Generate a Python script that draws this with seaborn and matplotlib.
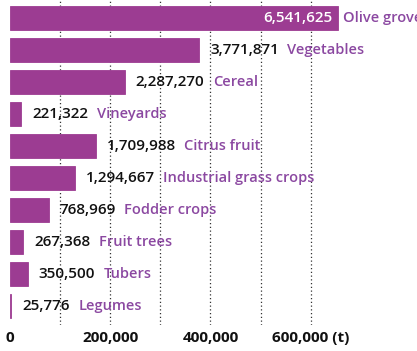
import matplotlib
matplotlib.use("Agg")
import matplotlib.pyplot as plt
import seaborn as sns
import pandas as pd

crops = ["Olive grove", "Vegetables", "Cereal", "Vineyards", "Citrus fruit",
         "Industrial grass crops", "Fodder crops", "Fruit trees", "Tubers", "Legumes"]
tonnes = [6541625, 3771871, 2287270, 221322, 1709988,
          1294667, 768969, 267368, 350500, 25776]
tick_values = [0, 2000000, 4000000, 6000000]
tick_labels = ["0", "200,000", "400,000", "600,000 (t)"]
grid_values = [1000000, 2000000, 3000000, 4000000, 5000000, 6000000]

bar_color = "#9c3c92"
label_color = "#8b48a1"

df = pd.DataFrame({"crop": crops, "tonnes": tonnes})

sns.set_style("white")
plt.rcParams["font.family"] = ["Open Sans", "DejaVu Sans"]

fig = plt.figure(figsize=(4.17, 3.51), dpi=100)
ax = fig.add_axes([10 / 417, 26 / 351, 407 / 417, 325 / 351])

sns.barplot(data=df, x="tonnes", y="crop", orient="h", color=bar_color,
            saturation=1, width=0.75, ax=ax, zorder=3,
            edgecolor=bar_color, linewidth=0.6)

ax.set_xlim(0, 407 / 50.1 * 1e6)
ax.set_ylim(9.59, -0.5625)

# dotted vertical guides behind the bars
for g in grid_values:
    ax.axvline(g, color="#333333", linestyle=(0, (1, 2)), linewidth=0.9, zorder=0)

ax.set_xticks(tick_values)
ax.set_xticklabels(tick_labels, fontsize=11, fontweight="bold", color="#111111")
ax.tick_params(axis="x", length=0, pad=4)
ax.grid(False)
ax.set_yticks([])
ax.set_xlabel("")
ax.set_ylabel("")
for s in ax.spines.values():
    s.set_visible(False)

for i, (name, val) in enumerate(zip(crops, tonnes)):
    txt = f"{val:,}"
    if i == 0:
        ax.annotate(txt, xy=(val, i), xytext=(-4, 0), textcoords="offset points",
                    ha="right", va="center", color="white", fontsize=11,
                    fontweight="semibold", zorder=5)
        ax.annotate(name, xy=(val, i), xytext=(4, 0), textcoords="offset points",
                    ha="left", va="center", color=label_color, fontsize=10.5,
                    fontweight="semibold", annotation_clip=False, zorder=5)
    else:
        t = ax.annotate(txt, xy=(val, i), xytext=(8, 0), textcoords="offset points",
                        ha="left", va="center", color="#111111", fontsize=11,
                        fontweight="semibold", zorder=5)
        ax.annotate(name, xy=(1, 0.5), xycoords=t, xytext=(6, 0),
                    textcoords="offset points", ha="left", va="center",
                    color=label_color, fontsize=10.5, fontweight="semibold", zorder=5)

fig.savefig("out.png", dpi=100)
